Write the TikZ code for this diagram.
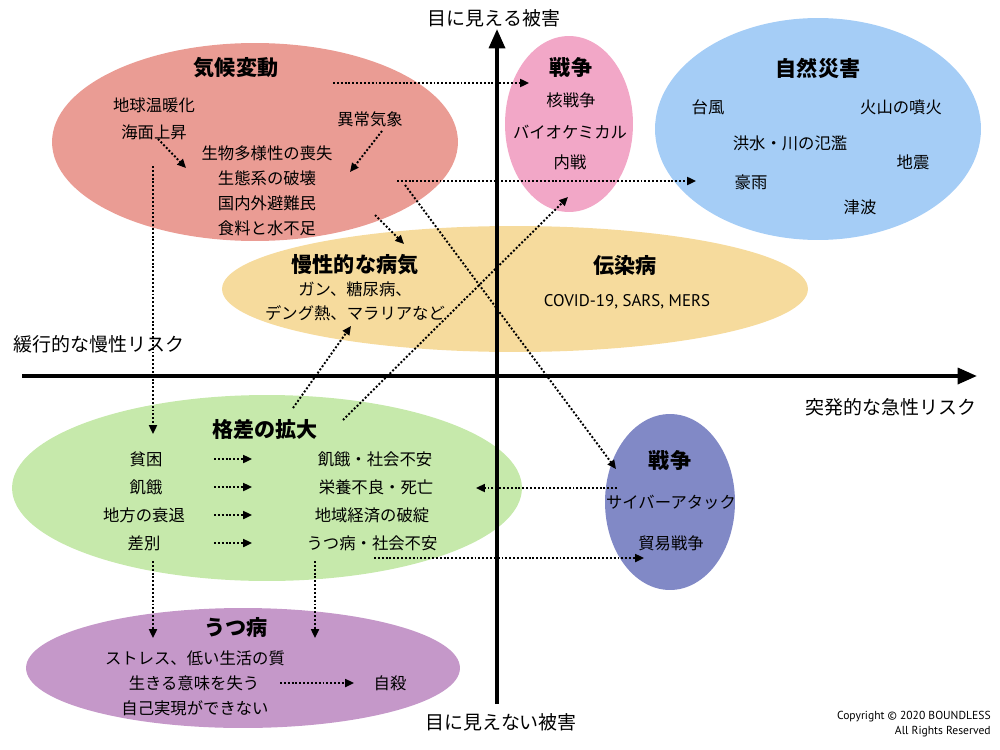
\documentclass[tikz,border=0pt]{standalone}
\usepackage{fontspec}
\setmainfont{Noto Sans CJK JP}
\newfontfamily\latinfont{PT Sans}
\usetikzlibrary{arrows.meta,positioning,shapes.geometric}
\definecolor{climred}{HTML}{EA9C94}
\definecolor{warpink}{HTML}{F2A7C7}
\definecolor{natblue}{HTML}{A5CDF6}
\definecolor{illyellow}{HTML}{F6DB9D}
\definecolor{gapgreen}{HTML}{C6E9AB}
\definecolor{cybviolet}{HTML}{8189C6}
\definecolor{deppurple}{HTML}{C598C9}

\begin{document}
\begin{tikzpicture}[x=0.02cm,y=-0.02cm,
  blob/.style={ellipse,inner sep=0pt},
  ttl/.style={font=\fontsize{12}{14}\selectfont\bfseries,inner sep=1pt},
  txt/.style={font=\fontsize{9.3}{11}\selectfont,inner sep=1pt},
  axlbl/.style={font=\fontsize{10.8}{13}\selectfont,inner sep=1pt},
  link/.style={-{Triangle[length=5pt,width=4.5pt]},line width=1.1pt,
               dash pattern=on 1.1pt off 1.1pt},
  axisarr/.style={-{Triangle[length=11pt,width=9pt]},line width=2.2pt}
]
\useasboundingbox (0,0) rectangle (1000,750);

% risk areas
\node[blob,fill=climred,minimum width=8.12cm,minimum height=3.96cm] (climate) at (255,142) {};
\node[blob,fill=warpink,minimum width=2.56cm,minimum height=3.52cm] (war) at (569,124) {};
\node[blob,fill=natblue,minimum width=6.52cm,minimum height=4.44cm] (nature) at (818,129) {};
\node[blob,fill=illyellow,minimum width=11.72cm,minimum height=2.52cm] (illness) at (515,289) {};
\node[blob,fill=gapgreen,minimum width=10.2cm,minimum height=3.72cm] (gap) at (267,488) {};
\node[blob,fill=cybviolet,minimum width=2.6cm,minimum height=3.52cm] (cyber) at (670,502) {};
\node[blob,fill=deppurple,minimum width=8.68cm,minimum height=2.4cm] (depress) at (243,668) {};

% axes
\coordinate (xfrom) at (22,376);
\coordinate (xto) at (977,376);
\coordinate (yfrom) at (497,704);
\coordinate (yto) at (497,29);
\draw[axisarr] (xfrom) -- (xto);
\draw[axisarr] (yfrom) -- (yto);
\node[axlbl] (visible) at (494,18) {目に見える被害};
\node[axlbl] (invisible) at (501,722) {目に見えない被害};
\node[axlbl] (chronic) at (99,344) {緩行的な慢性リスク};
\node[axlbl] (acute) at (891,407) {突発的な急性リスク};

% climate change
\node[ttl] (climT) at (236,68) {気候変動};
\node[txt] (warming) at (154,105) {地球温暖化};
\node[txt] (sealevel) at (154,132) {海面上昇};
\node[txt] (weather) at (370,119) {異常気象};
\node[txt] (biodiv) at (267,153) {生物多様性の喪失};
\node[txt] (ecosys) at (267,178) {生態系の破壊};
\node[txt] (refugee) at (267,203) {国内外避難民};
\node[txt] (food) at (267,228) {食料と水不足};

% war (top)
\node[ttl] (warT) at (571,68) {戦争};
\node[txt] (nuclear) at (571,100) {核戦争};
\node[txt] (biochem) at (570,132) {バイオケミカル};
\node[txt] (civil) at (570,162) {内戦};

% natural disasters
\node[ttl] (natT) at (818,68) {自然災害};
\node[txt] (typhoon) at (708,107) {台風};
\node[txt] (volcano) at (901,107) {火山の噴火};
\node[txt] (flood) at (790,143) {洪水・川の氾濫};
\node[txt] (quake) at (913,162) {地震};
\node[txt] (rain) at (751,182) {豪雨};
\node[txt] (tsunami) at (860,207) {津波};

% diseases
\node[ttl] (chronT) at (355,265) {慢性的な病気};
\node[txt] (cancer) at (355,289) {ガン、糖尿病、};
\node[txt] (dengue) at (355,313) {デング熱、マラリアなど};
\node[ttl] (infT) at (625,265) {伝染病};
\node[txt,font=\latinfont\fontsize{9.6}{11}\selectfont] (covid) at (627,302) {COVID-19, SARS, MERS};

% inequality
\node[ttl] (gapT) at (265,429) {格差の拡大};
\node[txt] (poverty) at (146,459) {貧困};
\node[txt] (hunger) at (146,487) {飢餓};
\node[txt] (decline) at (144,515) {地方の衰退};
\node[txt] (discrim) at (144,543) {差別};
\node[txt] (unrest) at (375,459) {飢餓・社会不安};
\node[txt] (death) at (376,487) {栄養不良・死亡};
\node[txt] (economy) at (372,515) {地域経済の破綻};
\node[txt] (anxiety) at (372,543) {うつ病・社会不安};

% war (bottom)
\node[ttl] (war2T) at (670,461) {戦争};
\node[txt] (attack) at (671,502) {サイバーアタック};
\node[txt] (tradewar) at (671,543) {貿易戦争};

% depression
\node[ttl] (depT) at (236,627) {うつ病};
\node[txt] (stress) at (195,658) {ストレス、低い生活の質};
\node[txt] (meaning) at (194,683) {生きる意味を失う};
\node[txt] (selfreal) at (195,708) {自己実現ができない};
\node[txt] (suicide) at (390,683) {自殺};

% copyright
\node[font=\latinfont\fontsize{6.6}{8}\selectfont,anchor=east,inner sep=0pt] (copy) at (991,717) {Copyright © 2020 BOUNDLESS};
\node[font=\latinfont\fontsize{6.6}{8}\selectfont,anchor=east,inner sep=0pt] (rights) at (991,732) {All Rights Reserved};

% links
\coordinate (c1) at (158,139);  \coordinate (c1e) at (186,168);
\coordinate (c2) at (382,131);  \coordinate (c2e) at (350,172);
\coordinate (c3) at (333,83);   \coordinate (c3e) at (529,83);
\coordinate (c4) at (397,181);  \coordinate (c4e) at (696,181);
\coordinate (c5) at (405,185);  \coordinate (c5e) at (616,469);
\coordinate (c6) at (375,215);  \coordinate (c6e) at (404,244);
\coordinate (c7) at (153,166);  \coordinate (c7e) at (153,434);
\draw[link] (c1) -- (c1e);
\draw[link] (c2) -- (c2e);
\draw[link] (c3) -- (c3e);
\draw[link] (c4) -- (c4e);
\draw[link] (c5) -- (c5e);
\draw[link] (c6) -- (c6e);
\draw[link] (c7) -- (c7e);

\coordinate (g1) at (293,408);  \coordinate (g1e) at (351,326);
\coordinate (g2) at (343,420);  \coordinate (g2e) at (568,197);
\foreach \y/\n in {459/a,487/b,515/c,543/d}{
  \coordinate (s\n) at (214,\y);
  \coordinate (s\n e) at (252,\y);
  \draw[link] (s\n) -- (s\n e);
}
\draw[link] (g1) -- (g1e);
\draw[link] (g2) -- (g2e);

\coordinate (w1) at (617,488);  \coordinate (w1e) at (476,488);
\coordinate (w2) at (374,558);  \coordinate (w2e) at (644,558);
\draw[link] (w1) -- (w1e);
\draw[link] (w2) -- (w2e);

\coordinate (d1) at (153,561);  \coordinate (d1e) at (153,638);
\coordinate (d2) at (315,561);  \coordinate (d2e) at (315,638);
\coordinate (d3) at (280,683);  \coordinate (d3e) at (354,683);
\draw[link] (d1) -- (d1e);
\draw[link] (d2) -- (d2e);
\draw[link] (d3) -- (d3e);
\end{tikzpicture}
\end{document}
